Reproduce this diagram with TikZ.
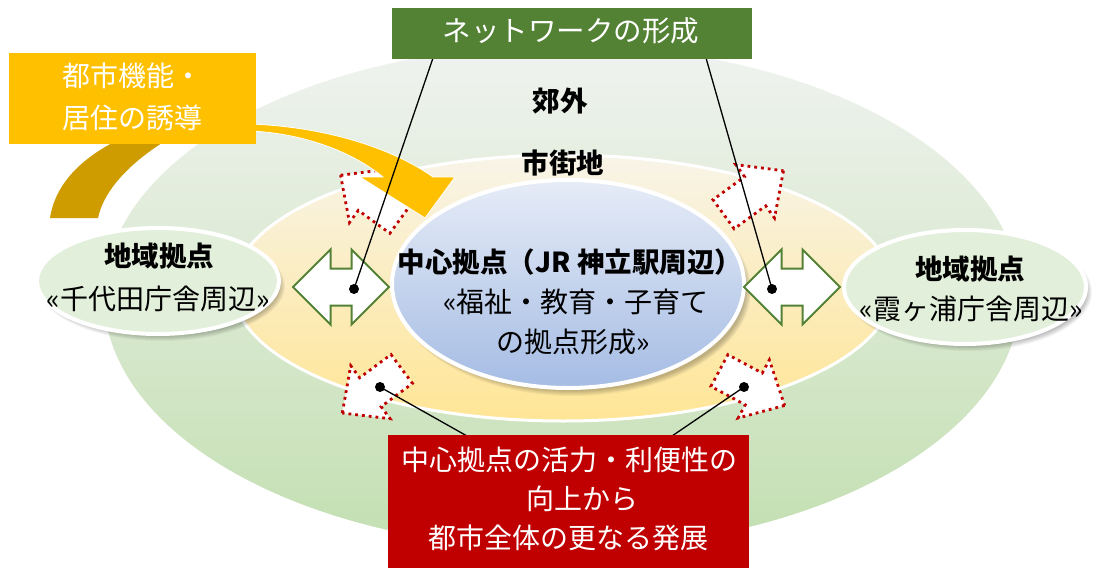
\documentclass[tikz,border=0pt]{standalone}
\usepackage{fontspec}
\setmainfont{Noto Sans CJK JP}
\usetikzlibrary{shapes.geometric}
\definecolor{netgreen}{HTML}{548235}
\definecolor{orng}{HTML}{FFC000}
\definecolor{darkgold}{HTML}{CF9C00}
\definecolor{redbox}{HTML}{C00000}
\definecolor{outtop}{HTML}{F0F3F0}
\definecolor{outbot}{HTML}{C3DFB1}
\definecolor{midtop}{HTML}{F8F4E8}
\definecolor{midbot}{HTML}{FFE595}
\definecolor{centop}{HTML}{E6ECF7}
\definecolor{cenbot}{HTML}{A5BCE4}
\definecolor{sidefill}{HTML}{E2EFDA}
\begin{document}
\begin{tikzpicture}[x=1pt,y=-1pt,
  txt/.style={font=\fontsize{28}{40}\selectfont, inner sep=0pt, align=center},
  btxt/.style={font=\fontsize{27.5}{40}\selectfont\bfseries, inner sep=0pt, align=center},
  wtxt/.style={txt, text=white},
  sideell/.style={ellipse, draw=white, line width=4pt, fill=sidefill, inner sep=0pt},
  dbl/.style={draw=netgreen, line width=2pt, fill=white, line join=miter},
  dotarrow/.style={draw=redbox, fill=white, line width=2.8pt, dash pattern=on 2.8pt off 4pt},
  conn/.style={draw=black, line width=1.3pt},
  dblarrow/.pic={\path[dbl] (-48,0) -- (-10.5,-37.5) -- (-10.5,-18.5) -- (10.5,-18.5) -- (10.5,-37.5) -- (48,0) -- (10.5,37.5) -- (10.5,18.5) -- (-10.5,18.5) -- (-10.5,37.5) -- cycle;},
  blockarr/.pic={\path[dotarrow] (37,0) -- (2,33) -- (2,18) -- (-37,18) -- (-37,-18) -- (2,-18) -- (2,-33) -- cycle;}
]
\useasboundingbox (0,0) rectangle (1099,567);
\fill[white] (0,0) rectangle (1099,567);

% outer ring (suburbs)
\shade[top color=outtop, bottom color=outbot, draw=white, line width=2pt]
  (562,297) ellipse [x radius=459, y radius=253];
% middle ring (urban area)
\shade[top color=midtop, bottom color=midbot, draw=white, line width=3pt]
  (563,288) ellipse [x radius=330, y radius=133];

% shadows
\foreach \i in {0,...,5} {
  \fill[black, opacity=0.045] (162,286) ellipse [x radius={118+\i}, y radius={50+\i}];
  \fill[black, opacity=0.045] (969,292) ellipse [x radius={118+\i}, y radius={54+\i}];
  \fill[black, opacity=0.045] (573,290) ellipse [x radius={173+\i}, y radius={101+\i}];
}

% side hubs
\node[sideell, minimum width=242pt, minimum height=106pt] (leftell) at (158,281) {};
\node[sideell, minimum width=242pt, minimum height=114pt] (rightell) at (965,287) {};
% central hub
\node[ellipse, inner sep=0pt, top color=centop, bottom color=cenbot, draw=white, line width=4pt,
  minimum width=352pt, minimum height=208pt] (centerell) at (568,284) {};

% double arrows
\pic at (341,287) {dblarrow};
\pic at (792,287) {dblarrow};

% dotted block arrows
\pic[rotate=144] at (370.5,197) {blockarr};
\pic[rotate=36] at (753.5,192.5) {blockarr};
\pic[rotate=216.6] at (372,391) {blockarr};
\pic[rotate=-28.2] at (752,388) {blockarr};

% curved arrow: back part
\fill[darkgold] (50,218) .. controls (55,185) and (80,158) .. (122,138) -- (170,138)
  .. controls (130,162) and (104,190) .. (98,218) -- cycle;
% curved arrow: front part
\path[fill=orng, draw=white, line width=0.8pt] (250,124) .. controls (330,127) and (395,150) .. (433,177)
  -- (455,177) -- (425,218) -- (360,177) -- (383,177)
  .. controls (350,150) and (300,133) .. (250,131) -- cycle;

% boxes
\node[fill=orng, minimum width=247pt, minimum height=91pt, anchor=north west, inner sep=0pt] (orbox) at (9,53) {};
\node[wtxt, anchor=west] (or1) at (62,76) {都市機能・};
\node[wtxt, anchor=west] (or2) at (62,118) {居住の誘導};

% texts
\node[btxt] (kogai) at (560,101) {郊外};
\node[btxt] (shigai) at (563,163) {市街地};
\node[btxt] (ct1) at (570,262) {中心拠点（JR 神立駅周辺）};
\node[txt] (ct2) at (576,302) {«福祉・教育・子育て};
\node[txt] (ct3) at (573,342) {の拠点形成»};
\node[btxt] (lt1) at (159,256) {地域拠点};
\node[txt] (lt2) at (158,299) {«千代田庁舎周辺»};
\node[btxt] (rt1) at (970,269) {地域拠点};
\node[txt] (rt2) at (971,309) {«霞ヶ浦庁舎周辺»};

% leader lines and dots
\coordinate (dotL) at (354,289);
\coordinate (dotR) at (772,289);
\coordinate (dotBL) at (380,387);
\coordinate (dotBR) at (744,387);
\coordinate (netL) at (433,58);
\coordinate (netR) at (706,58);
\coordinate (redL) at (467,436);
\coordinate (redR) at (672,436);
\draw[conn] (dotL) -- (netL);
\draw[conn] (dotR) -- (netR);
\draw[conn] (dotBL) -- (redL);
\draw[conn] (dotBR) -- (redR);
\foreach \d in {dotL,dotR,dotBL,dotBR} \fill (\d) circle (5);

% network box
\node[fill=netgreen, minimum width=360pt, minimum height=51pt, anchor=north west, inner sep=0pt] (netbox) at (392,8) {};
\node[wtxt, font=\fontsize{28.5}{40}\selectfont] (nettxt) at (571,31) {ネットワークの形成};

% red box
\node[fill=redbox, minimum width=361pt, minimum height=133pt, anchor=north west, inner sep=0pt] (redbx) at (388,435) {};
\node[wtxt] (rd1) at (569,460) {中心拠点の活力・利便性の};
\node[wtxt] (rd2) at (582,499) {向上から};
\node[wtxt] (rd3) at (568,538) {都市全体の更なる発展};
\end{tikzpicture}
\end{document}
